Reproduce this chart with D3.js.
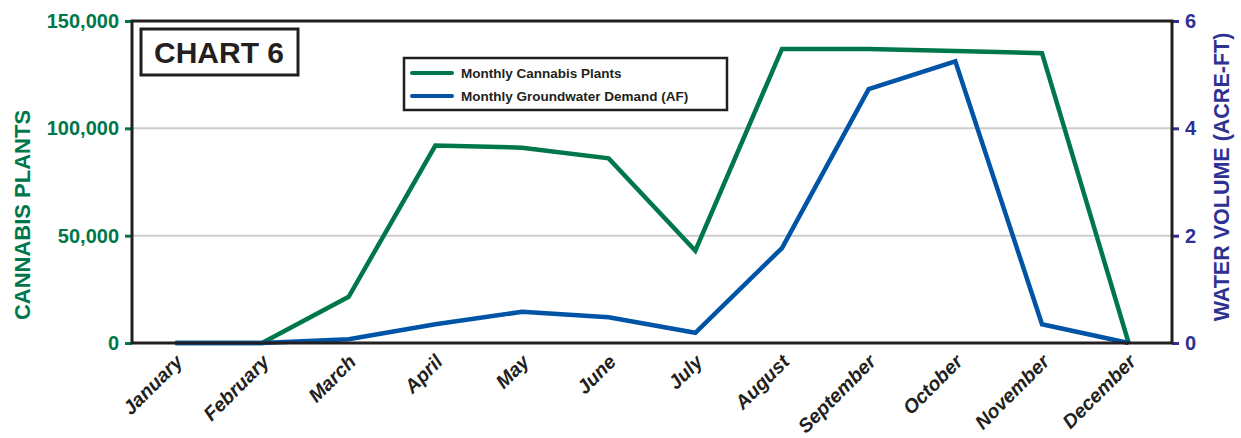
<!DOCTYPE html>
<html>
<head>
<meta charset="utf-8">
<script src="https://cdn.jsdelivr.net/npm/d3@7"></script>
<style>
  body { margin: 0; background: #fff; }
  svg { font-family: "Liberation Sans", Arial, sans-serif; }
</style>
</head>
<body>
<svg width="1241" height="438"></svg>
<script>
var months = ["January", "February", "March", "April", "May", "June", "July",
              "August", "September", "October", "November", "December"];
var plants = [0, 0, 21500, 92000, 91000, 86000, 43000, 137000, 137000, 136000, 135000, 0];
var water = [0, 0, 0.07, 0.35, 0.58, 0.48, 0.19, 1.77, 4.73, 5.25, 0.35, 0];
var leftTicks = [0, 50000, 100000, 150000];
var rightTicks = [0, 2, 4, 6];

var green = "#00774a", blue = "#0054a6", navy = "#2e3192", ink = "#231f20";

var svg = d3.select("svg"),
    margin = {top: 21, right: 69, bottom: 95, left: 132},
    width = 1241 - margin.left - margin.right,
    height = 438 - margin.top - margin.bottom;

var g = svg.append("g").attr("transform", "translate(" + margin.left + "," + margin.top + ")");

var x = d3.scalePoint().domain(months).range([0, width]).padding(0.5);
var yL = d3.scaleLinear().domain([0, 150000]).range([height, 0]);
var yR = d3.scaleLinear().domain([0, 6]).range([height, 0]);

// gridlines
g.append("g").selectAll("line")
    .data([50000, 100000])
    .enter().append("line")
    .attr("x1", 0).attr("x2", width)
    .attr("y1", function(d) { return yL(d); })
    .attr("y2", function(d) { return yL(d); })
    .attr("stroke", "#cccccc").attr("stroke-width", 2);

// left axis
var axL = g.append("g")
    .call(d3.axisLeft(yL).tickValues(leftTicks).tickSize(7).tickPadding(6).tickFormat(d3.format(",")));
axL.select(".domain").remove();
axL.selectAll("line").attr("stroke", green).attr("stroke-width", 3);
axL.selectAll("text").attr("fill", green).attr("font-size", 20).attr("font-weight", "bold");

// right axis
var axR = g.append("g").attr("transform", "translate(" + width + ",0)")
    .call(d3.axisRight(yR).tickValues(rightTicks).tickSize(7).tickPadding(6).tickFormat(d3.format("d")));
axR.select(".domain").remove();
axR.selectAll("line").attr("stroke", navy).attr("stroke-width", 3);
axR.selectAll("text").attr("fill", navy).attr("font-size", 20).attr("font-weight", "bold");

// x axis labels
var axX = g.append("g").attr("transform", "translate(0," + height + ")")
    .call(d3.axisBottom(x).tickSize(0).tickPadding(0));
axX.select(".domain").remove();
axX.selectAll("text")
    .attr("fill", ink).attr("font-size", 19.5).attr("font-weight", "bold").attr("font-style", "italic")
    .attr("text-anchor", "end")
    .attr("dy", 0)
    .attr("transform", "translate(8,20) rotate(-45)");

// lines
var lineL = d3.line().x(function(d, i) { return x(months[i]); }).y(function(d) { return yL(d); });
var lineR = d3.line().x(function(d, i) { return x(months[i]); }).y(function(d) { return yR(d); });

g.append("path").datum(plants)
    .attr("d", lineL).attr("fill", "none").attr("stroke", green)
    .attr("stroke-width", 4.5).attr("stroke-linejoin", "miter");
g.append("path").datum(water)
    .attr("d", lineR).attr("fill", "none").attr("stroke", blue)
    .attr("stroke-width", 4.5).attr("stroke-linejoin", "miter");

// frame
g.append("rect").attr("width", width).attr("height", height)
    .attr("fill", "none").attr("stroke", ink).attr("stroke-width", 3);

// title box
g.append("rect").attr("x", 9).attr("y", 8).attr("width", 157).attr("height", 46)
    .attr("fill", "#fff").attr("stroke", ink).attr("stroke-width", 3);
g.append("text").attr("x", 87).attr("y", 42).attr("text-anchor", "middle")
    .attr("font-size", 30).attr("font-weight", "bold").attr("fill", ink).text("CHART 6");

// legend
var leg = g.append("g").attr("transform", "translate(272,37)");
leg.append("rect").attr("width", 323).attr("height", 52)
    .attr("fill", "#fff").attr("stroke", ink).attr("stroke-width", 2.5);
var series = [{name: "Monthly Cannabis Plants", color: green},
              {name: "Monthly Groundwater Demand (AF)", color: blue}];
var item = leg.selectAll(".item").data(series).enter().append("g")
    .attr("transform", function(d, i) { return "translate(0," + (15 + i * 23) + ")"; });
item.append("line").attr("x1", 8).attr("x2", 48)
    .attr("stroke", function(d) { return d.color; }).attr("stroke-width", 4).attr("stroke-linecap", "round");
item.append("text").attr("x", 57).attr("y", 5)
    .attr("font-size", 13.5).attr("font-weight", "bold").attr("fill", ink)
    .text(function(d) { return d.name; });

// axis titles
svg.append("text")
    .attr("transform", "translate(30," + (margin.top + 194) + ") rotate(-90)")
    .attr("text-anchor", "middle").attr("font-size", 22).attr("font-weight", "bold")
    .attr("fill", green).text("CANNABIS PLANTS");
svg.append("text")
    .attr("transform", "translate(1229," + (margin.top + 156) + ") rotate(-90)")
    .attr("text-anchor", "middle").attr("font-size", 21.5).attr("font-weight", "bold")
    .attr("fill", navy).text("WATER VOLUME (ACRE-FT)");
</script>
</body>
</html>
